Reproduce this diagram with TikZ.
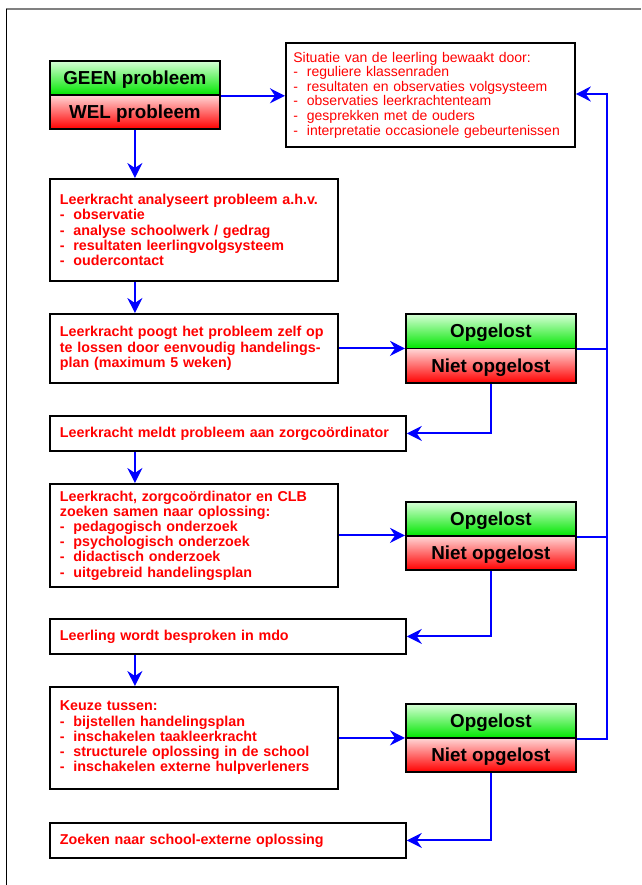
\documentclass[tikz,border=0pt]{standalone}
\usepackage{fontspec}
\setmainfont{Liberation Sans}
\usetikzlibrary{shapes, arrows.meta}

\definecolor{rood}{RGB}{255,0,0}
\definecolor{blauw}{RGB}{0,0,255}
\definecolor{groenlicht}{RGB}{215,255,215}
\definecolor{groenvol}{RGB}{0,230,0}
\definecolor{roodlicht}{RGB}{255,215,215}
\definecolor{kader}{RGB}{128,128,128}

\newcommand{\streep}{\makebox[13.5pt][l]{-}}

\begin{document}
\begin{tikzpicture}[x=1pt, y=-1pt,
    stap/.style = {draw, line width=1.8pt, anchor=north west, text=rood, align=left,
        font=\bfseries\fontsize{14.3}{15.2}\selectfont, inner xsep=10pt, inner ysep=0pt},
    info/.style = {draw, line width=1.8pt, anchor=north west, text=rood, align=left,
        font=\fontsize{14}{14.6}\selectfont, text width=274pt, inner xsep=7.5pt, inner ysep=0pt},
    oplos/.style = {draw, line width=1.8pt, anchor=north west, inner sep=0pt,
        minimum width=170pt, font=\bfseries\fontsize{18.8}{20}\selectfont, text depth=0pt},
    goed/.style = {oplos, top color=groenlicht, bottom color=groenvol},
    fout/.style = {oplos, top color=roodlicht, bottom color=rood},
    pijl/.style = {draw=blauw, line width=2pt, -{Stealth[length=15pt, width=15pt, inset=5pt]}},
    lijn/.style = {draw=blauw, line width=1.8pt}]
        \useasboundingbox (0,0) rectangle (641,885);
        \draw[kader, line width=2pt] (6,9) -- (641,9);
        \draw[line width=1.3pt] (6.5,9) -- (6.5,885);

        \node[goed, minimum height=34pt] at (49, 60) (geen) {GEEN probleem};
        \node[fout, minimum height=34pt] at (49, 94) (wel) {WEL probleem};
        \node[info, minimum height=104pt] at (285, 42) (sit) {Situatie van de leerling bewaakt door:\\
            \streep reguliere klassenraden\\
            \streep resultaten en observaties volgsysteem\\
            \streep observaties leerkrachtenteam\\
            \streep gesprekken met de ouders\\
            \streep interpretatie occasionele gebeurtenissen};

        \node[stap, text width=268pt, minimum height=102pt] at (49, 178) (ana) {Leerkracht analyseert probleem a.h.v.\\
            \streep observatie\\
            \streep analyse schoolwerk / gedrag\\
            \streep resultaten leerlingvolgsysteem\\
            \streep oudercontact};
        \node[stap, text width=268pt, minimum height=69pt] at (49, 313) (poogt) {Leerkracht poogt het probleem zelf op\\
            te lossen door eenvoudig handelings-\\
            plan (maximum 5 weken)};
        \node[goed, minimum height=34.5pt] at (405, 313) (opg1) {Opgelost};
        \node[fout, minimum height=34.5pt] at (405, 347.5) (niet1) {Niet opgelost};
        \node[stap, text width=336pt, minimum height=35pt] at (49, 415) (meldt) {Leerkracht meldt probleem aan zorgcoördinator};

        \node[stap, text width=268pt, minimum height=103pt] at (49, 483) (samen) {Leerkracht, zorgcoördinator en CLB\\
            zoeken samen naar oplossing:\\
            \streep pedagogisch onderzoek\\
            \streep psychologisch onderzoek\\
            \streep didactisch onderzoek\\
            \streep uitgebreid handelingsplan};
        \node[goed, minimum height=34pt] at (405, 501) (opg2) {Opgelost};
        \node[fout, minimum height=34pt] at (405, 535) (niet2) {Niet opgelost};
        \node[stap, text width=336pt, minimum height=35pt] at (49, 618) (mdo) {Leerling wordt besproken in mdo};

        \node[stap, text width=268pt, minimum height=102pt] at (49, 686) (keuze) {Keuze tussen:\\
            \streep bijstellen handelingsplan\\
            \streep inschakelen taakleerkracht\\
            \streep structurele oplossing in de school\\
            \streep inschakelen externe hulpverleners};
        \node[goed, minimum height=34pt] at (405, 703) (opg3) {Opgelost};
        \node[fout, minimum height=34pt] at (405, 737) (niet3) {Niet opgelost};
        \node[stap, text width=336pt, minimum height=35pt] at (49, 822) (extern) {Zoeken naar school-externe oplossing};

        \coordinate (terug) at (607, 94);

        \draw [pijl] (geen.south east) -- (geen.south east -| sit.west);
        \draw [pijl] (wel.south) -- (ana.north -| wel.south);
        \draw [pijl] (ana.south -| wel.south) -- (poogt.north -| wel.south);
        \draw [pijl] (poogt.east) -- (poogt.east -| opg1.south west);
        \draw [pijl] (niet1.south) |- (meldt.east);
        \draw [pijl] (meldt.south -| wel.south) -- (samen.north -| wel.south);
        \draw [pijl] (samen.east) -- (samen.east -| opg2.south west);
        \draw [pijl] (niet2.south) |- (mdo.east);
        \draw [pijl] (mdo.south -| wel.south) -- (keuze.north -| wel.south);
        \draw [pijl] (keuze.east) -- (keuze.east -| opg3.south west);
        \draw [pijl] (niet3.south) |- (extern.east);
        \draw [lijn] (opg1.south east) -- (opg1.south east -| terug);
        \draw [lijn] (opg2.south east) -- (opg2.south east -| terug);
        \draw [pijl] (opg3.south east) -| (terug) -- (terug -| sit.east);
\end{tikzpicture}
\end{document}
